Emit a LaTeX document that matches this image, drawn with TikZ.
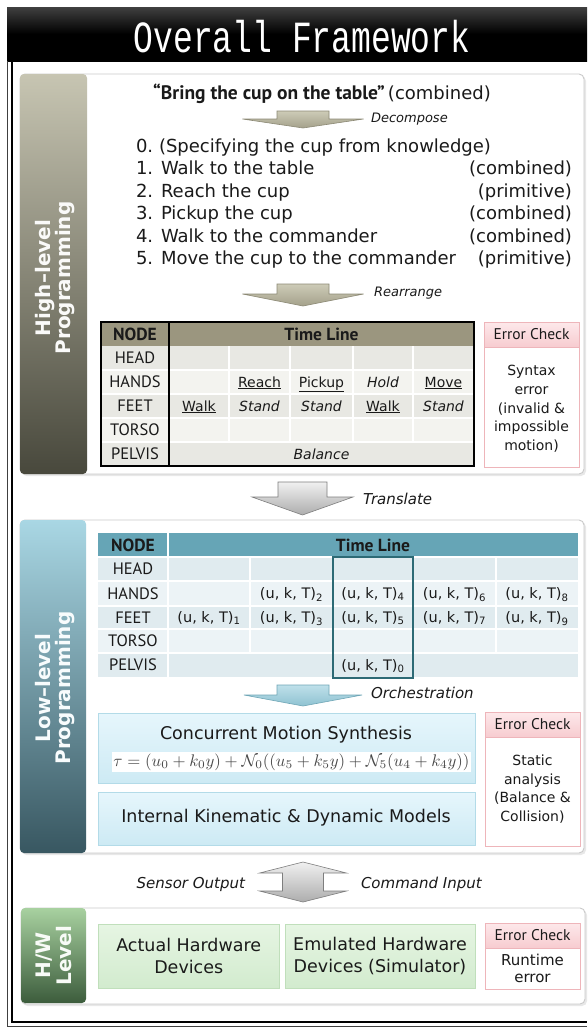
\documentclass[tikz,border=0pt]{standalone}
\usepackage{fontspec}
\setmainfont{DejaVu Sans}
\newfontfamily\ptsans{PT Sans}
\newfontfamily\monof{Liberation Mono}
\newcommand\fsz[2]{\fontsize{#1}{#2}\selectfont}
\definecolor{hbandT}{HTML}{C7C5B2}
\definecolor{hbandB}{HTML}{48483C}
\definecolor{lbandT}{HTML}{A9D7E4}
\definecolor{lbandB}{HTML}{385761}
\definecolor{wbandT}{HTML}{A8D1A0}
\definecolor{wbandB}{HTML}{3C5C3C}
\definecolor{hhead}{HTML}{9B967F}
\definecolor{hrowA}{HTML}{E8E8E3}
\definecolor{hrowB}{HTML}{F3F3EF}
\definecolor{lhead}{HTML}{66A5B6}
\definecolor{lrowA}{HTML}{E0EBEF}
\definecolor{lrowB}{HTML}{ECF3F6}
\definecolor{lframe}{HTML}{2D6A75}
\definecolor{pinkT}{HTML}{FDE8EA}
\definecolor{pinkB}{HTML}{F7CCD0}
\definecolor{pinkD}{HTML}{EEB5BA}
\definecolor{cyanT}{HTML}{E6F6FC}
\definecolor{cyanB}{HTML}{CDEAF4}
\definecolor{cyanD}{HTML}{B3DBE8}
\definecolor{grnT}{HTML}{E6F5E3}
\definecolor{grnB}{HTML}{D2EBCE}
\definecolor{grnD}{HTML}{C0DFBB}
\definecolor{khakiT}{HTML}{CDCBB7}
\definecolor{khakiB}{HTML}{A4A18B}
\definecolor{khakiD}{HTML}{8C8975}
\definecolor{greyT}{HTML}{F0F0F0}
\definecolor{greyB}{HTML}{ADADAD}
\definecolor{greyD}{HTML}{7E7E7E}
\definecolor{blueT}{HTML}{BFE0EA}
\definecolor{blueB}{HTML}{8EC2D1}
\definecolor{blueD}{HTML}{6FA6B6}
\definecolor{paneld}{HTML}{CACACA}
\definecolor{txt}{HTML}{1A1A1A}
% down block arrow: cx, top, shaft half, wing y, wing half, tip y, style
\newcommand\dnarrow[7]{%
  \shade[#7] (#1-#3,#2) -- (#1+#3,#2) -- (#1+#3,#4) -- (#1+#5,#4) -- (#1,#6)
    -- (#1-#5,#4) -- (#1-#3,#4) -- cycle;}
\begin{document}
\begin{tikzpicture}[x=1pt,y=-1pt,
  every node/.style={inner sep=0pt,outer sep=0pt,text=txt},
  panel/.style={draw=paneld,fill=white,rounded corners=5pt,line width=0.9pt},
  shadowp/.style={fill=black!9,rounded corners=5pt},
  bandlab/.style={rotate=90,align=center,font=\bfseries\fsz{20}{20.5}},
  errbox/.style={draw=pinkD,fill=white,line width=0.9pt},
  errhead/.style={top color=pinkT,bottom color=pinkB,draw=pinkD,line width=0.9pt},
  errtitle/.style={font=\ptsans\fsz{15.5}{18}},
  errbody/.style={font=\fsz{14}{18.7},align=center},
  rowlab/.style={font=\ptsans\fsz{16.5}{18}},
  hdr/.style={font=\ptsans\bfseries\fsz{17.5}{20}},
  cell/.style={font=\fsz{14}{17}},
  lcell/.style={font=\fsz{14.5}{17}},
  lbl/.style={font=\itshape\fsz{15}{17},anchor=west},
  slbl/.style={font=\itshape\fsz{13}{15},anchor=west},
  listf/.style={font=\fsz{18}{21}},
  sep/.style={white,line width=1.4pt},
  khakiarrow/.style={top color=khakiT,bottom color=khakiB,draw=khakiD,line width=0.6pt},
  greyarrow/.style={top color=greyT,bottom color=greyB,draw=greyD,line width=0.6pt},
  bluearrow/.style={top color=blueT,bottom color=blueB,draw=blueD,line width=0.6pt},
  cyanbox/.style={top color=cyanT,bottom color=cyanB,draw=cyanD,line width=0.8pt},
  grnbox/.style={top color=grnT,bottom color=grnB,draw=grnD,line width=0.8pt},
  boxtxt/.style={font=\fsz{17.5}{21.5},align=center}]
\useasboundingbox (0,0) rectangle (587,1028);
\fill[white] (0,0) rectangle (587,1028);
% ---------- title bar and frame
\shade[top color=black!75,bottom color=black,middle color=black] (7,7) rectangle (587,61);
\node[font=\monof\fsz{33}{33},text=white] (title) at (302,37) {\scalebox{1}[1.35]{Overall Framework}};
\draw[black!75,line width=1pt] (7.5,61) -- (7.5,1026) -- (587,1026);
\draw[black,line width=1.2pt] (12,61) -- (12,1022) -- (587,1022);
% ---------- HIGH-LEVEL panel
\fill[shadowp] (21.5,76) rectangle (586,476);
\draw[panel] (20,74) rectangle (584,474);
\shade[top color=hbandT,bottom color=hbandB,rounded corners=4pt] (20,74) rectangle (87,474);
\node[bandlab,text=white!92!hbandT] (hlab) at (55,278) {High–level\\Programming};
\node[anchor=base] (cmd) at (322,99) {{\ptsans\bfseries\fsz{19.5}{22}“Bring the cup on the table”} {\fsz{18}{21}(combined)}};
\dnarrow{303}{111}{26}{119}{60.5}{128}{khakiarrow}
\node[slbl] (decomp) at (371,119) {Decompose};
\node[listf,anchor=base west] (n0) at (136,152) {0.};
\node[listf,anchor=base west] (t0) at (159,152) {(Specifying the cup from knowledge)};
\node[listf,anchor=base west] (n1) at (136,174) {1.};
\node[listf,anchor=base west] (t1) at (161,174) {Walk to the table};
\node[listf,anchor=base east] (k1) at (572,174) {(combined)};
\node[listf,anchor=base west] (n2) at (136,197) {2.};
\node[listf,anchor=base west] (t2) at (161,197) {Reach the cup};
\node[listf,anchor=base east] (k2) at (572,197) {(primitive)};
\node[listf,anchor=base west] (n3) at (136,219) {3.};
\node[listf,anchor=base west] (t3) at (161,219) {Pickup the cup};
\node[listf,anchor=base east] (k3) at (572,219) {(combined)};
\node[listf,anchor=base west] (n4) at (136,242) {4.};
\node[listf,anchor=base west] (t4) at (161,242) {Walk to the commander};
\node[listf,anchor=base east] (k4) at (572,242) {(combined)};
\node[listf,anchor=base west] (n5) at (136,264) {5.};
\node[listf,anchor=base west] (t5) at (161,264) {Move the cup to the commander};
\node[listf,anchor=base east] (k5) at (572,264) {(primitive)};
\dnarrow{303}{284}{26}{294}{60.5}{306}{khakiarrow}
\node[slbl] (rearr) at (374,293) {Rearrange};
% high table
\fill[hhead] (101,322) rectangle (474,346);
\fill[hrowA] (101,346) rectangle (474,370);
\fill[hrowB] (101,370) rectangle (474,394);
\fill[hrowA] (101,394) rectangle (474,418);
\fill[hrowB] (101,418) rectangle (474,442);
\fill[hrowA] (101,442) rectangle (474,466);
\foreach \yy in {370,394,418,442} \draw[sep] (101,\yy) -- (474,\yy);
\foreach \xx in {229,290,353,413} \draw[sep] (\xx,346) -- (\xx,442);
\draw[black,line width=1.2pt] (169,322) -- (169,466);
\draw[black,line width=1.3pt] (101,322) rectangle (474,466);
\node[hdr] (hnode) at (135,334) {NODE};
\node[hdr] (htime) at (321.5,334) {Time Line};
\node[rowlab] (hr1) at (135,358) {HEAD};
\node[rowlab] (hr2) at (135,382) {HANDS};
\node[rowlab] (hr3) at (135,406) {FEET};
\node[rowlab] (hr4) at (135,430) {TORSO};
\node[rowlab] (hr5) at (135,454) {PELVIS};
\node[cell,anchor=base] (c22) at (259.5,387) {\underline{Reach}};
\node[cell,anchor=base] (c23) at (321.5,387) {\underline{Pickup}};
\node[cell,anchor=base] (c24) at (383,387) {\itshape Hold};
\node[cell,anchor=base] (c25) at (443.5,387) {\underline{Move}};
\node[cell,anchor=base] (c31) at (199,411) {\underline{Walk}};
\node[cell,anchor=base] (c32) at (259.5,411) {\itshape Stand};
\node[cell,anchor=base] (c33) at (321.5,411) {\itshape Stand};
\node[cell,anchor=base] (c34) at (383,411) {\underline{Walk}};
\node[cell,anchor=base] (c35) at (443.5,411) {\itshape Stand};
\node[cell,anchor=base] (c5) at (321.5,459) {\itshape Balance};
% error check 1
\draw[errbox] (484,322) rectangle (579,467);
\shade[errhead] (484,322) rectangle (579,347);
\node[errtitle] (e1t) at (531.5,334.5) {Error Check};
\node[errbody] (e1b) at (531.5,409) {Syntax\\error\\(invalid \&\\impossible\\motion)};
% translate
\dnarrow{302.5}{482}{24.5}{497}{50.5}{515}{greyarrow}
\node[lbl] (transl) at (363,499) {Translate};
% ---------- LOW-LEVEL panel
\fill[shadowp] (21.5,522) rectangle (586,855);
\draw[panel] (20,520) rectangle (584,853);
\shade[top color=lbandT,bottom color=lbandB,rounded corners=4pt] (20,520) rectangle (86,853);
\node[bandlab,text=white!92!lbandT] (llab) at (55,688) {Low–level\\Programming};
\fill[lhead] (98,533) rectangle (578,557);
\fill[lrowA] (98,557) rectangle (578,581);
\fill[lrowB] (98,581) rectangle (578,606);
\fill[lrowA] (98,606) rectangle (578,629);
\fill[lrowB] (98,629) rectangle (578,653);
\fill[lrowA] (98,653) rectangle (578,677);
\foreach \yy in {557,581,606,629,653} \draw[sep] (98,\yy) -- (578,\yy);
\draw[sep] (168,533) -- (168,677);
\foreach \xx in {250,496} \draw[sep] (\xx,557) -- (\xx,653);
\draw[lframe,line width=1.6pt] (333,557) rectangle (413,678);
\node[hdr] (lnode) at (133,545) {NODE};
\node[hdr] (ltime) at (373,545) {Time Line};
\node[rowlab] (lr1) at (133,569) {HEAD};
\node[rowlab] (lr2) at (133,593.5) {HANDS};
\node[rowlab] (lr3) at (133,617.5) {FEET};
\node[rowlab] (lr4) at (133,641) {TORSO};
\node[rowlab] (lr5) at (133,665) {PELVIS};
\node[lcell,anchor=base] (u2) at (291.5,598.5) {(u, k, T)\textsubscript{2}};
\node[lcell,anchor=base] (u4) at (373,598.5) {(u, k, T)\textsubscript{4}};
\node[lcell,anchor=base] (u6) at (454.5,598.5) {(u, k, T)\textsubscript{6}};
\node[lcell,anchor=base] (u8) at (537,598.5) {(u, k, T)\textsubscript{8}};
\node[lcell,anchor=base] (u1) at (209,622.5) {(u, k, T)\textsubscript{1}};
\node[lcell,anchor=base] (u3) at (291.5,622.5) {(u, k, T)\textsubscript{3}};
\node[lcell,anchor=base] (u5) at (373,622.5) {(u, k, T)\textsubscript{5}};
\node[lcell,anchor=base] (u7) at (454.5,622.5) {(u, k, T)\textsubscript{7}};
\node[lcell,anchor=base] (u9) at (537,622.5) {(u, k, T)\textsubscript{9}};
\node[lcell,anchor=base] (u0) at (373,670) {(u, k, T)\textsubscript{0}};
\dnarrow{303}{685}{26}{695}{59}{706}{bluearrow}
\node[lbl] (orch) at (371,693) {Orchestration};
\shade[cyanbox] (98.5,713) rectangle (475,783);
\node[boxtxt] (cms) at (286,735) {Concurrent Motion Synthesis};
\node[fill=white,inner sep=1.5pt,text=black!72] (formula) at (291.5,762)
  {\resizebox{356pt}{!}{$\tau = (u_0 + k_0 y) + \mathcal{N}_0((u_5 + k_5 y) + \mathcal{N}_5(u_4 + k_4 y))$}};
\shade[cyanbox] (98.5,792) rectangle (475,845);
\node[boxtxt] (ikd) at (286,818) {Internal Kinematic \& Dynamic Models};
\draw[errbox] (485,712) rectangle (580,846);
\shade[errhead] (485,712) rectangle (580,737);
\node[errtitle] (e2t) at (532.5,724.5) {Error Check};
\node[errbody] (e2b) at (532.5,789) {Static\\analysis\\(Balance \&\\Collision)};
% ---------- double arrow
\shade[greyarrow] (303,862) -- (346.5,873) -- (323.5,873) -- (323.5,891) -- (346.5,891)
  -- (303,902) -- (259.5,891) -- (282.5,891) -- (282.5,873) -- (259.5,873) -- cycle;
\node[lbl,anchor=east] (sens) at (245,884) {Sensor Output};
\node[lbl] (cmdin) at (361,884) {Command Input};
% ---------- H/W panel
\fill[shadowp] (22.5,910) rectangle (587,1006);
\draw[panel] (21,908) rectangle (585,1004);
\shade[top color=wbandT,bottom color=wbandB,rounded corners=4pt] (21,908) rectangle (86,1003);
\node[bandlab,text=white!92!wbandT] (wlab) at (54,955.5) {H/W\\Level};
\shade[grnbox] (98.5,924) rectangle (279,988);
\node[boxtxt] (ahd) at (188.75,956) {Actual Hardware\\Devices};
\shade[grnbox] (285,924) rectangle (475,988);
\node[boxtxt] (ehd) at (380,956) {Emulated Hardware\\Devices (Simulator)};
\draw[errbox] (485,923) rectangle (580,989);
\shade[errhead] (485,923) rectangle (580,948);
\node[errtitle] (e3t) at (532.5,935.5) {Error Check};
\node[font=\fsz{15}{16.5},align=center] (e3b) at (532.5,968.5) {Runtime\\error};
\end{tikzpicture}
\end{document}
